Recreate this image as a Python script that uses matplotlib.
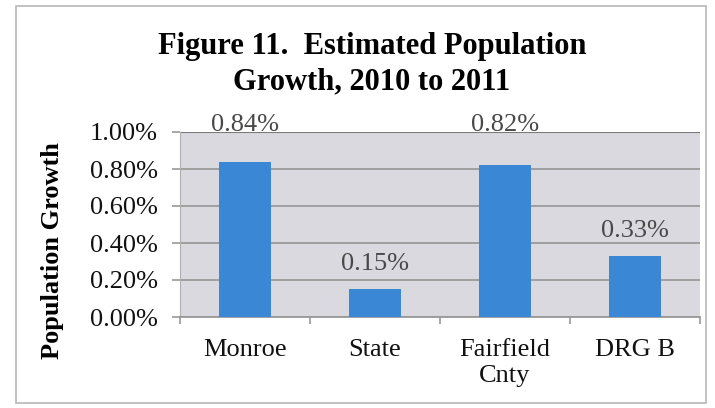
import matplotlib
matplotlib.use("Agg")
import matplotlib.pyplot as plt
from matplotlib.patches import Rectangle
from matplotlib.ticker import FixedLocator

categories = ["Monroe", "State", "Fairfield\nCnty", "DRG B"]
values = [0.84, 0.15, 0.82, 0.33]
value_labels = ["0.84%", "0.15%", "0.82%", "0.33%"]
yticks = [0.0, 0.2, 0.4, 0.6, 0.8, 1.0]
ytick_labels = ["0.00%", "0.20%", "0.40%", "0.60%", "0.80%", "1.00%"]
title = "Figure 11.  Estimated Population\nGrowth, 2010 to 2011"
ylabel = "Population Growth"

plt.rcParams['font.family'] = ['Liberation Serif', 'DejaVu Serif']

fig = plt.figure(figsize=(7.15, 4.08), dpi=100)
fig.patch.set_facecolor("white")
fig.patches.append(Rectangle((16/715, 1 - 403/408), 690/715, 397/408,
                             transform=fig.transFigure, fill=False,
                             edgecolor="#b8b8b8", linewidth=1.2))

ax = fig.add_axes([180/715, 91/408, 520/715, 185/408])
ax.set_facecolor("#d9d9df")
x = list(range(len(categories)))
ax.bar(x, values, width=0.4, color="#3a87d6", zorder=3)
ax.set_xlim(-0.5, len(categories) - 0.5)
ax.set_ylim(0, 1.0)

ax.set_yticks(yticks)
ax.set_yticklabels(ytick_labels, fontsize=19, color="#111111")
ax.set_xticks(x)
ax.set_xticklabels(categories, fontsize=19, color="#111111", linespacing=1.2)
ax.xaxis.set_minor_locator(FixedLocator([i - 0.5 for i in range(len(categories) + 1)]))
ax.tick_params(axis="x", which="major", length=0, pad=16)
ax.tick_params(axis="x", which="minor", length=5, color="#999999", width=1.2)
ax.tick_params(axis="y", length=6, color="#999999", width=1.2, pad=10)

ax.grid(axis="y", color="#9a9a9a", linewidth=1.3, zorder=1)
for s in ["top", "right"]:
    ax.spines[s].set_visible(False)
ax.spines["left"].set_color("#b0b0b0")
ax.spines["bottom"].set_color("#999999")
ax.spines["bottom"].set_linewidth(1.3)
ax.axhline(1.0, color="#7a7a7a", linewidth=1.5, zorder=2)

for xi, v, lab in zip(x, values, value_labels):
    ly = v + 0.135
    if ly > 0.9:
        ly = 1.04
    ax.text(xi, ly, lab, ha="center", va="center", fontsize=19,
            color="#484848", zorder=4, clip_on=False)

ax.set_ylabel(ylabel, fontsize=19, fontweight="bold")
ax.yaxis.set_label_coords(-116/520, 0.36)

fig.text(372/715, 1 - 64/408, title, ha="center", va="center",
         fontsize=22, fontweight="bold", linespacing=1.3)

fig.savefig("out.png", dpi=100)
